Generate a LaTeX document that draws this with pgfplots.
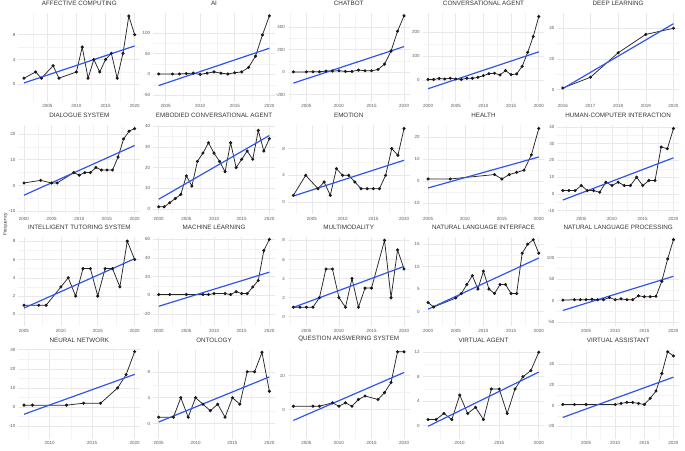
\documentclass[border=0pt]{standalone}
\usepackage{fontspec}
\setmainfont{Liberation Sans}
\usepackage{pgfplots}
\usepackage{pgfplotstable}
\pgfplotsset{compat=1.18}
\usepgfplotslibrary{groupplots}
\definecolor{smoothc}{HTML}{2F55EE}
\definecolor{titlec}{HTML}{333333}
\definecolor{tickc}{HTML}{5A5A5A}
\definecolor{majg}{HTML}{E8E8E8}
\definecolor{ming}{HTML}{F3F3F3}

\newcommand{\mk}[2]{\pgfplotstableread[row sep=\\]{#2}#1\pgfplotstablecreatecol[create col/expr={\thisrow{year}-2000}]{t}#1}

\mk{\tabA}{year n\\2001 1\\2003 2\\2004 1\\2006 3\\2007 1\\2010 2\\2011 6\\2012 1\\2013 4\\2014 2\\2015 4\\2016 5\\2017 1\\2018 5\\2019 11\\2020 8\\}
\mk{\tabB}{year n\\2004 1\\2006 1\\2007 1\\2008 2\\2009 3\\2010 0\\2011 3\\2012 6\\2013 3\\2014 1\\2015 4\\2016 6\\2017 17\\2018 44\\2019 95\\2020 141\\}
\mk{\tabC}{year n\\2003 1\\2005 1\\2006 2\\2007 2\\2008 8\\2009 8\\2010 11\\2011 5\\2012 5\\2013 17\\2014 11\\2015 11\\2016 22\\2017 70\\2018 186\\2019 363\\2020 500\\}
\mk{\tabD}{year n\\2000 3\\2001 3\\2002 7\\2003 5\\2004 8\\2005 5\\2006 3\\2007 8\\2008 8\\2009 12\\2010 19\\2011 27\\2012 29\\2013 22\\2014 40\\2015 23\\2016 26\\2017 58\\2018 116\\2019 182\\2020 265\\}
\mk{\tabE}{year n\\2016 1\\2017 8\\2018 24\\2019 36\\2020 40\\}
\mk{\tabF}{year n\\2000 1\\2003 2\\2005 1\\2006 1\\2009 5\\2010 4\\2011 5\\2012 5\\2013 7\\2014 6\\2015 6\\2016 6\\2017 11\\2018 18\\2019 21\\2020 22\\}
\mk{\tabG}{year n\\2000 1\\2001 1\\2002 3\\2003 5\\2004 7\\2005 16\\2006 11\\2007 23\\2008 27\\2009 32\\2010 27\\2011 23\\2012 18\\2013 32\\2014 20\\2015 24\\2016 28\\2017 24\\2018 38\\2019 28\\2020 34\\}
\mk{\tabH}{year n\\2002 1\\2004 4\\2006 2\\2007 3\\2008 1\\2009 5\\2010 4\\2011 4\\2012 3\\2013 2\\2014 2\\2015 2\\2016 2\\2017 4\\2018 8\\2019 7\\2020 11\\}
\mk{\tabI}{year n\\2005 1\\2008 1\\2014 3\\2015 1\\2016 3\\2017 4\\2018 5\\2019 12\\2020 24\\}
\mk{\tabJ}{year n\\2002 2\\2003 2\\2004 2\\2005 5\\2006 2\\2007 2\\2008 1\\2009 7\\2010 5\\2011 7\\2012 5\\2013 5\\2014 10\\2015 5\\2016 8\\2017 8\\2018 28\\2019 27\\2020 39\\}
\mk{\tabK}{year n\\2005 1\\2007 1\\2008 1\\2010 3\\2011 4\\2012 2\\2013 5\\2014 5\\2015 2\\2016 5\\2017 5\\2018 3\\2019 8\\2020 6\\}
\mk{\tabL}{year n\\2000 1\\2002 1\\2005 1\\2008 1\\2009 1\\2010 2\\2012 2\\2013 1\\2014 4\\2015 2\\2016 2\\2017 9\\2018 16\\2019 48\\2020 60\\}
\mk{\tabM}{year n\\2003 1\\2004 1\\2005 1\\2006 1\\2007 2\\2008 5\\2009 5\\2010 2\\2011 1\\2012 4\\2013 1\\2014 3\\2015 3\\2017 8\\2018 2\\2019 7\\2020 5\\}
\mk{\tabN}{year n\\2000 2\\2001 1\\2005 3\\2006 4\\2007 6\\2008 8\\2009 5\\2010 9\\2011 5\\2012 4\\2013 6\\2014 6\\2015 4\\2016 4\\2017 13\\2018 15\\2019 16\\2020 13\\}
\mk{\tabO}{year n\\2001 1\\2003 2\\2004 2\\2005 2\\2006 3\\2007 2\\2008 2\\2009 7\\2010 2\\2011 4\\2012 2\\2013 2\\2014 11\\2015 9\\2016 9\\2017 10\\2018 45\\2019 97\\2020 142\\}
\mk{\tabP}{year n\\2007 1\\2008 1\\2012 1\\2014 2\\2016 2\\2018 10\\2019 17\\2020 29\\}
\mk{\tabQ}{year n\\2005 1\\2007 1\\2008 4\\2009 1\\2010 4\\2011 3\\2012 2\\2013 3\\2014 1\\2015 4\\2016 3\\2017 8\\2018 8\\2019 11\\2020 5\\}
\mk{\tabR}{year n\\2003 1\\2006 1\\2007 1\\2009 2\\2010 1\\2011 2\\2012 1\\2013 3\\2014 4\\2016 3\\2017 5\\2018 8\\2019 17\\2020 17\\}
\mk{\tabS}{year n\\2006 1\\2007 1\\2008 2\\2009 1\\2010 5\\2011 2\\2012 3\\2013 1\\2014 6\\2015 6\\2016 2\\2017 6\\2018 8\\2019 9\\2020 12\\}
\mk{\tabT}{year n\\2001 1\\2003 1\\2005 1\\2010 1\\2011 2\\2012 3\\2013 3\\2014 2\\2015 1\\2016 7\\2017 14\\2018 31\\2019 52\\2020 48\\}

\pgfplotsset{
  dataline/.style={color=black!85, line width=0.75pt, mark=*, mark size=1.15pt, mark options={solid, fill=black!90, draw=black!90}},
  regline/.style={color=smoothc, line width=1.2pt, no marks},
}

\newcommand{\pan}[3]{%
\nextgroupplot[title={#1},#3]
\addplot[dataline] table[x=year,y=n]{#2};
\addplot[regline] table[x=year,y={create col/linear regression={x=t,y=n}}]{#2};
}

\begin{document}
\begin{tikzpicture}
\begin{groupplot}[
  group style={group size=5 by 4, horizontal sep=13pt, vertical sep=23.5pt},
  scale only axis, width=122pt, height=89pt,
  axis line style={draw=none},
  tick style={draw=none},
  major tick length=0pt, minor tick length=0pt,
  grid=both,
  major grid style={majg, line width=0.55pt},
  minor grid style={ming, line width=0.35pt},
  minor tick num=1,
  xtick distance=5,
  ticklabel style={font=\fontsize{4.5}{5}\selectfont, text=tickc},
  /pgf/number format/assume math mode=true,
  /pgf/number format/1000 sep={},
  title style={font=\fontsize{6.3}{7}\selectfont, text=titlec, inner sep=1.5pt},
  xticklabel style={yshift=0.5pt},
  yticklabel style={xshift=0.5pt},
]
\pan{AFFECTIVE COMPUTING}{\tabA}{xmin=2000.05,xmax=2020.95,ymin=-2.8,ymax=11.5,ytick={0,4,8}}
\pan{AI}{\tabB}{xmin=2003.2,xmax=2020.8,ymin=-66,ymax=148,ytick={-50,0,50,100}}
\pan{CHATBOT}{\tabC}{xmin=2002.15,xmax=2020.85,ymin=-265,ymax=525,ytick={-200,0,200,400}}
\pan{CONVERSATIONAL AGENT}{\tabD}{xmin=1999,xmax=2021,ymin=-90,ymax=280,ytick={0,100,200}}
\pan{DEEP LEARNING}{\tabE}{xmin=2015.8,xmax=2020.2,ymin=-8,ymax=50,ytick={0,20,40},xtick={2016,...,2020}}
\pan{DIALOGUE SYSTEM}{\tabF}{xmin=1999,xmax=2021,ymin=-11,ymax=23.3,ytick={-10,0,10,20}}
\pan{EMBODIED CONVERSATIONAL AGENT}{\tabG}{xmin=1999,xmax=2021,ymin=-2.5,ymax=40.5,ytick={0,10,20,30,40}}
\pan{EMOTION}{\tabH}{xmin=2001.1,xmax=2020.9,ymin=-1.8,ymax=11.5,ytick={0,4,8}}
\pan{HEALTH}{\tabI}{xmin=2004.25,xmax=2020.75,ymin=-15,ymax=25.5,ytick={-10,0,10,20}}
\pan{HUMAN-COMPUTER INTERACTION}{\tabJ}{xmin=2001.1,xmax=2020.9,ymin=-12,ymax=41,ytick={-10,0,10,20,30,40}}
\pan{INTELLIGENT TUTORING SYSTEM}{\tabK}{xmin=2004.25,xmax=2020.75,ymin=-1.3,ymax=8.4,ytick={0,2,4,6,8}}
\pan{MACHINE LEARNING}{\tabL}{xmin=1999,xmax=2021,ymin=-33,ymax=62,ytick={-20,0,20,40,60}}
\pan{MULTIMODALITY}{\tabM}{xmin=2002.15,xmax=2020.85,ymin=-1,ymax=8.3,ytick={0,2,4,6,8}}
\pan{NATURAL LANGUAGE INTERFACE}{\tabN}{xmin=1999,xmax=2021,ymin=-3.3,ymax=16.5,ytick={0,5,10,15}}
\pan{NATURAL LANGUAGE PROCESSING}{\tabO}{xmin=2000.05,xmax=2020.95,ymin=-60,ymax=147,ytick={-50,0,50,100,150}}
\pan{NEURAL NETWORK}{\tabP}{xmin=2006.35,xmax=2020.65,ymin=-16.5,ymax=30,ytick={-10,0,10,20,30}}
\pan{ONTOLOGY}{\tabQ}{xmin=2004.25,xmax=2020.75,ymin=-2.3,ymax=11.4,ytick={0,4,8}}
\pan{QUESTION ANSWERING SYSTEM}{\tabR}{xmin=2002.15,xmax=2020.85,ymin=-8.5,ymax=17.6,ytick={0,10}}
\pan{VIRTUAL AGENT}{\tabS}{xmin=2005.3,xmax=2020.7,ymin=-2.1,ymax=12.4,ytick={0,4,8,12}}
\pan{VIRTUAL ASSISTANT}{\tabT}{xmin=2000.05,xmax=2020.95,ymin=-32,ymax=54,ytick={-20,0,20,40}}
\end{groupplot}
\pgfresetboundingbox
\path ([shift={(-17pt,13pt)}]group c1r1.north west) rectangle ++(685pt,-451pt);
\node[rotate=90, font=\fontsize{4.8}{5}\selectfont, text=titlec] at ([shift={(-13pt,-212pt)}]group c1r1.north west) {Frequency};
\end{tikzpicture}
\end{document}
